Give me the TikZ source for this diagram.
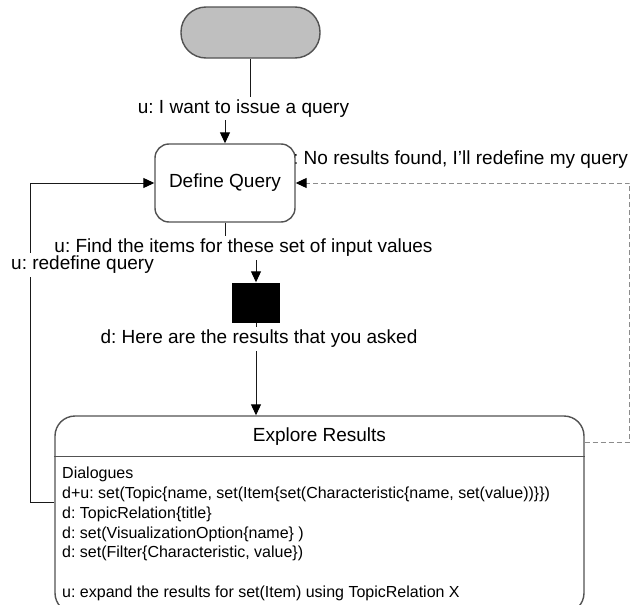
\documentclass[tikz,border=0pt]{standalone}
\usepackage{fontspec}
\setmainfont{Liberation Sans}
\usetikzlibrary{arrows.meta}
\frenchspacing
\begin{document}
\begin{tikzpicture}[x=1pt,y=-1pt,
  boxline/.style={draw=black!68, line width=1.4pt},
  pillbox/.style={boxline, fill=black!25, rounded corners=25pt, minimum width=139pt, minimum height=51pt, inner sep=0pt},
  statebox/.style={boxline, fill=white, rounded corners=14pt, minimum width=140pt, minimum height=78pt, inner sep=0pt, font=\fontsize{19}{22}\selectfont},
  bigbox/.style={boxline, fill=white, rounded corners=20pt, minimum width=529pt, minimum height=197pt, inner sep=0pt},
  barbox/.style={fill=black, minimum width=48pt, minimum height=40pt, inner sep=0pt},
  lab/.style={fill=white, inner sep=3pt, font=\fontsize{19}{22}\selectfont},
  bodytext/.style={anchor=base west, inner sep=0pt, font=\fontsize{16}{20}\selectfont},
  tip/.style={-{Triangle[length=11pt,width=10pt,color=black]}},
  conn/.style={draw=black!90, line width=1pt, tip},
  dconn/.style={draw=black!45, line width=1pt, dash pattern=on 5pt off 3pt, tip}
]
\useasboundingbox (0,0) rectangle (630,605);
\clip (0,0) rectangle (630,605);

% nodes
\node[pillbox] (start) at (250.5,32.5) {};
\node[anchor=west, inner sep=0pt, font=\fontsize{19}{22}\selectfont] (l5) at (293,160) {: No results found, I’ll redefine my query};
\node[statebox] (dq) at (225,183) {Define Query};
\node[barbox] (sq) at (256,302.5) {};
\node[bigbox] (er) at (319.5,514.5) {};
\draw[boxline] ([yshift=-41pt]er.north west) -- ([yshift=-41pt]er.north east);
\node[font=\fontsize{19}{22}\selectfont, inner sep=0pt] (ert) at (319.5,437) {Explore Results};

\node[bodytext] (b1) at (62,478) {Dialogues};
\node[bodytext] (b2) at (62,498) {d+u: set(Topic\{name, set(Item\{set(Characteristic\{name, set(value))\}\})};
\node[bodytext] (b3) at (62,518) {d: TopicRelation\{title\}};
\node[bodytext] (b4) at (62,538) {d: set(VisualizationOption\{name\} )};
\node[bodytext] (b5) at (62,557) {d: set(Filter\{Characteristic, value\})};
\node[bodytext] (b6) at (62,597) {u: expand the results for set(Item) using TopicRelation X};

% connectors
\coordinate (j1) at (250.5,108);
\coordinate (j2) at (225,248);
\draw[conn] (start.south) -- (j1) -| (dq.north);
\draw[conn] (dq.south) -- (j2) -| (sq.north);
\draw[conn] (sq.south) -- (sq.south |- er.north);
\draw[conn] ([yshift=12.5pt]er.west) -- ++(-24,0) |- (dq.west);
\draw[dconn] ([yshift=72.5pt]er.east) -- ++(45,0) |- (dq.east);

% labels
\node[lab] (l1) at (243.5,108.5) {u: I want to issue a query};
\node[lab] (l2) at (243.5,248) {u: Find the items for these set of input values};
\node[lab] (l3) at (82.5,265) {u: redefine query};
\node[lab] (l4) at (259,339) {d: Here are the results that you asked};
\end{tikzpicture}
\end{document}
